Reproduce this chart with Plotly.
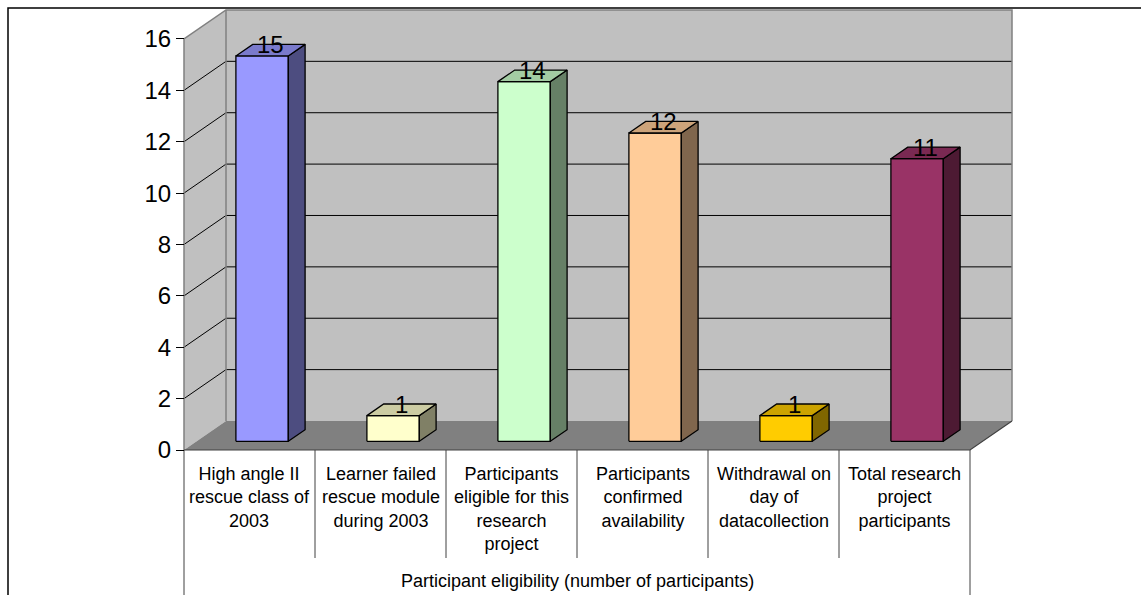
import plotly.graph_objects as go

# ---------------- data ----------------
categories = [
    "High angle II<br>rescue class of<br>2003",
    "Learner failed<br>rescue module<br>during 2003",
    "Participants<br>eligible for this<br>research<br>project",
    "Participants<br>confirmed<br>availability",
    "Withdrawal on<br>day of<br>datacollection",
    "Total research<br>project<br>participants",
]
values = [15, 1, 14, 12, 1, 11]
front_colors = ["#9999FF", "#FFFFCC", "#CCFFCC", "#FFCC99", "#FFCC00", "#993366"]
top_colors = ["#7A7ACC", "#CCCCA3", "#A3CCA3", "#CCA37A", "#CCA300", "#7A2952"]
side_colors = ["#4D4D80", "#808066", "#668066", "#80664D", "#806600", "#4D1A33"]
y_ticks = [0, 2, 4, 6, 8, 10, 12, 14, 16]
axis_title = "Participant eligibility (number of participants)"

# ---------------- geometry (3D projection in data units) ----------------
W, H = 1141, 595
X0PX, PX_PER_X = 184, 131.0      # pixel of x=0, pixels per category
Y0PX, PX_PER_Y = 450, 25.69      # pixel of y=0, pixels per unit value
DX = 42 / PX_PER_X               # depth offset in x units
DY = 29 / PX_PER_Y               # depth offset in y units
N = len(values)
YMAX = 16
Z0, Z1 = 0.3, 0.7                # bar depth span
BW0, BW1 = 0.30, 0.70            # bar span within a category
TABLE_BOTTOM = -(558 - Y0PX) / PX_PER_Y
FIG_BOTTOM = -(H - Y0PX) / PX_PER_Y - 0.5

FONT = "Liberation Sans, Arial, sans-serif"


def P(x, y, z):
    return x + z * DX, y + z * DY


def poly(pts, fill, line_color="black", lw=1.3):
    xs = [p[0] for p in pts] + [pts[0][0]]
    ys = [p[1] for p in pts] + [pts[0][1]]
    return go.Scatter(x=xs, y=ys, mode="lines", fill="toself", fillcolor=fill,
                      line=dict(color=line_color, width=lw), hoverinfo="skip",
                      showlegend=False)


def seg(pts, color, lw=1.0):
    return go.Scatter(x=[p[0] for p in pts], y=[p[1] for p in pts], mode="lines",
                      line=dict(color=color, width=lw), hoverinfo="skip",
                      showlegend=False)


fig = go.Figure()

# walls and floor
fig.add_trace(poly([P(0, 0, 1), P(N, 0, 1), P(N, YMAX, 1), P(0, YMAX, 1)], "#C0C0C0", "#C0C0C0", 0))
fig.add_trace(poly([P(0, 0, 0), P(0, 0, 1), P(0, YMAX, 1), P(0, YMAX, 0)], "#C0C0C0", "#C0C0C0", 0))
fig.add_trace(poly([P(0, 0, 0), P(N, 0, 0), P(N, 0, 1), P(0, 0, 1)], "#808080", "#808080", 0))

# gridlines
for v in y_ticks[1:-1]:
    fig.add_trace(seg([P(0, v, 0), P(0, v, 1), P(N, v, 1)], "black", 1.0))

# wall borders
fig.add_trace(seg([P(0, 0, 0), P(0, YMAX, 0), P(0, YMAX, 1), P(N, YMAX, 1), P(N, 0, 1)], "#808080", 1.5))
fig.add_trace(seg([P(0, 0, 1), P(0, YMAX, 1)], "#808080", 1.5))
fig.add_trace(seg([P(0, 0, 0), P(N, 0, 0), P(N, 0, 1)], "#404040", 1.2))

# bars
for i, v in enumerate(values):
    xa, xb = i + BW0, i + BW1
    fig.add_trace(poly([P(xa, 0, Z0), P(xb, 0, Z0), P(xb, v, Z0), P(xa, v, Z0)], front_colors[i]))
    fig.add_trace(poly([P(xb, 0, Z0), P(xb, 0, Z1), P(xb, v, Z1), P(xb, v, Z0)], side_colors[i]))
    fig.add_trace(poly([P(xa, v, Z0), P(xb, v, Z0), P(xb, v, Z1), P(xa, v, Z1)], top_colors[i]))
    lx, _ = P(i + 0.5, v, 0.5)
    _, ly = P(i + 0.5, v, Z1)
    fig.add_annotation(x=lx, y=ly, text=str(v), showarrow=False, yanchor="middle",
                       xanchor="center", font=dict(family=FONT, size=24, color="black"))

# table lines below the floor
for k in range(N + 1):
    bottom = FIG_BOTTOM if k in (0, N) else TABLE_BOTTOM
    fig.add_trace(seg([(k, 0), (k, bottom)], "#404040", 1.0))

# category labels
for i, c in enumerate(categories):
    fig.add_annotation(x=i + 0.5, y=-0.45, text=c, showarrow=False, yanchor="top",
                       xanchor="center", align="center",
                       font=dict(family=FONT, size=18, color="black"))

fig.add_annotation(x=N / 2, y=-(581 - Y0PX) / PX_PER_Y, text=axis_title, showarrow=False,
                   yanchor="middle", xanchor="center",
                   font=dict(family=FONT, size=18, color="black"))

# outer chart border
fig.add_shape(type="rect", xref="paper", yref="paper",
              x0=8 / W, x1=1.05, y0=-0.05, y1=1 - 8 / H,
              line=dict(color="black", width=1.5), fillcolor="rgba(0,0,0,0)", layer="above")

fig.update_layout(
    width=W, height=H,
    margin=dict(l=0, r=0, t=0, b=0),
    paper_bgcolor="white", plot_bgcolor="white",
    showlegend=False,
    xaxis=dict(range=[-X0PX / PX_PER_X, (W - X0PX) / PX_PER_X], visible=False,
               domain=[0, 1], fixedrange=True),
    yaxis=dict(range=[-(H - Y0PX) / PX_PER_Y, Y0PX / PX_PER_Y], anchor="free",
               position=X0PX / W, showgrid=False, zeroline=False, showline=False,
               tickmode="array", tickvals=y_ticks, ticks="outside", ticklen=8,
               tickcolor="black", tickwidth=1,
               tickfont=dict(family=FONT, size=24, color="black"), fixedrange=True),
)

fig.write_html("out.html")
